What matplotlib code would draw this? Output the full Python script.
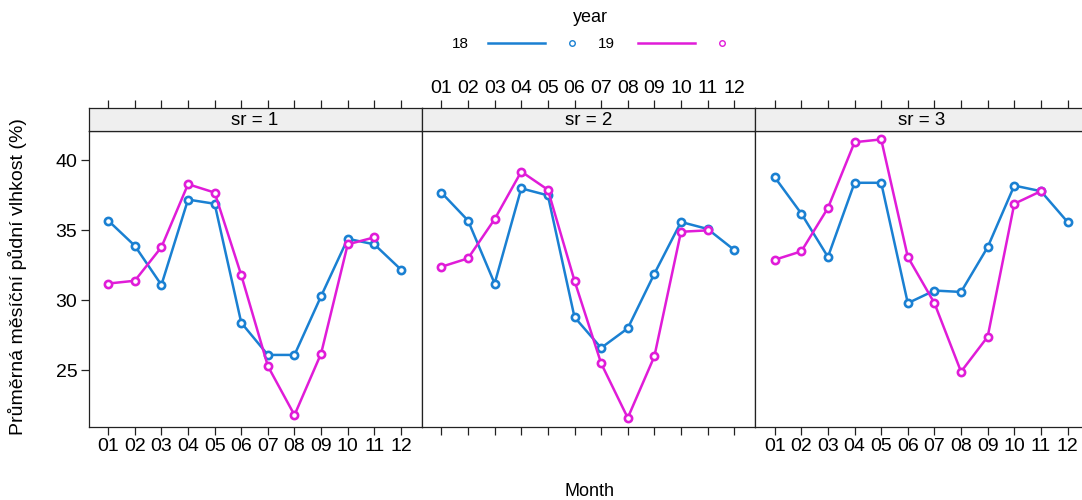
"""
plot.py

Monthly soil moisture by year (18 vs 19), one panel per site (sr = 1..3),
drawn to look like an R lattice xyplot.
"""
import matplotlib
matplotlib.use('Agg')
import matplotlib.pyplot as plt
from matplotlib.lines import Line2D


# === Data =====================================================================

months = ['01', '02', '03', '04', '05', '06', '07', '08', '09', '10', '11', '12']
sites = [1, 2, 3]
years = ['18', '19']

# year 18 (12 months) per site
sr1_18 = [35.7, 33.9, 31.1, 37.2, 36.9, 28.4, 26.1, 26.1, 30.3, 34.4, 34.0, 32.2]
sr2_18 = [37.7, 35.7, 31.2, 38.0, 37.5, 28.8, 26.6, 28.0, 31.9, 35.6, 35.1, 33.6]
sr3_18 = [38.8, 36.2, 33.1, 38.4, 38.4, 29.8, 30.7, 30.6, 33.8, 38.2, 37.8, 35.6]

# year 19 (Jan - Nov) per site
sr1_19 = [31.2, 31.4, 33.8, 38.3, 37.7, 31.8, 25.3, 21.8, 26.2, 34.0, 34.5]
sr2_19 = [32.4, 33.0, 35.8, 39.2, 37.9, 31.4, 25.5, 21.6, 26.0, 34.9, 35.0]
sr3_19 = [32.9, 33.5, 36.6, 41.3, 41.5, 33.1, 29.8, 24.9, 27.4, 36.9, 37.8]

y_ticks = [25, 30, 35, 40]


# === Style ====================================================================

class PlotStyle:
    """Colours and sizes close to the lattice defaults."""
    colors = ['#1a80d2', '#e01cd8']
    strip_color = '#efefef'
    frame_color = '#222222'
    font_size = 14
    line_width = 1.8


plt.rcParams['font.family'] = ['Liberation Sans', 'DejaVu Sans']

W, H = 1082, 500


def px_box(x0, y0, x1, y1):
    """Convert a pixel box (top-left origin) to a figure fraction rect."""
    return [x0 / W, 1 - y1 / H, (x1 - x0) / W, (y1 - y0) / H]


def fx(x):
    return x / W


def fy(y):
    return 1 - y / H


# === Plot =====================================================================

fig = plt.figure(figsize=(W / 100, H / 100), dpi=100)

series = {1: (sr1_18, sr1_19), 2: (sr2_18, sr2_19), 3: (sr3_18, sr3_19)}
panel_edges = [88.5, 421.7, 755.0, 1088.3]
x_pos = list(range(1, len(months) + 1))
xlim = (0.26, 12.78)
ylim = (20.95, 42.1)

for idx, site in enumerate(sites):
    left, right = panel_edges[idx], panel_edges[idx + 1]
    ax = fig.add_axes(px_box(left, 131, right, 427))
    strip = fig.add_axes(px_box(left, 108, right, 131))

    for yi, vals in enumerate(series[site]):
        ax.plot(x_pos[:len(vals)], vals, color=PlotStyle.colors[yi],
                lw=PlotStyle.line_width, marker='o', ms=5.2, mew=1.9,
                mfc='white', mec=PlotStyle.colors[yi], clip_on=False)

    ax.set_xlim(*xlim)
    ax.set_ylim(*ylim)
    ax.set_xticks(x_pos)
    ax.set_yticks(y_ticks)
    ax.tick_params(direction='out', length=6, width=0.9, color=PlotStyle.frame_color,
                   labelsize=PlotStyle.font_size, pad=2)
    ax.tick_params(axis='x', bottom=True, labelbottom=(idx != 1))
    ax.tick_params(axis='y', left=(idx == 0), labelleft=(idx == 0),
                   right=(idx == 2), labelright=False)
    ax.set_xticklabels(months)
    for sp in ax.spines.values():
        sp.set_color(PlotStyle.frame_color)
        sp.set_linewidth(0.9)

    # strip with top axis ticks
    strip.set_facecolor(PlotStyle.strip_color)
    strip.set_xlim(*xlim)
    strip.set_ylim(0, 1)
    strip.set_yticks([])
    strip.set_xticks(x_pos)
    strip.xaxis.set_ticks_position('top')
    strip.tick_params(axis='x', direction='out', length=6, width=0.9,
                      color=PlotStyle.frame_color, labelsize=PlotStyle.font_size,
                      pad=2, labeltop=(idx == 1), labelbottom=False, bottom=False)
    strip.set_xticklabels(months)
    for sp in strip.spines.values():
        sp.set_color(PlotStyle.frame_color)
        sp.set_linewidth(0.9)
    strip.text(0.5, 0.45, 'sr = {}'.format(site), transform=strip.transAxes,
               ha='center', va='center', fontsize=PlotStyle.font_size - 0.5)

# axis titles
fig.text(fx(18), fy(277), 'Průměrná měsíční půdní vlhkost (%)', rotation=90,
         ha='center', va='center', fontsize=PlotStyle.font_size)
fig.text(fx(590), fy(491), 'Month', ha='center', va='center',
         fontsize=PlotStyle.font_size - 1)

# legend on top
fig.text(fx(590), fy(17), 'year', ha='center', va='center',
         fontsize=PlotStyle.font_size - 1)
legend_x = [(460, 488, 545, 572), (606, 638, 695, 722)]
for yi, (tx, l0, l1, mx) in enumerate(legend_x):
    fig.text(fx(tx), fy(44), years[yi], ha='center', va='center',
             fontsize=PlotStyle.font_size - 3)
    fig.add_artist(Line2D([fx(l0), fx(l1)], [fy(43), fy(43)],
                          color=PlotStyle.colors[yi], lw=PlotStyle.line_width))
    fig.add_artist(Line2D([fx(mx)], [fy(43)], marker='o', ms=4, mew=1,
                          mfc='white', mec=PlotStyle.colors[yi], ls='none'))

fig.savefig('out.png', dpi=100, facecolor='white')
plt.close(fig)
